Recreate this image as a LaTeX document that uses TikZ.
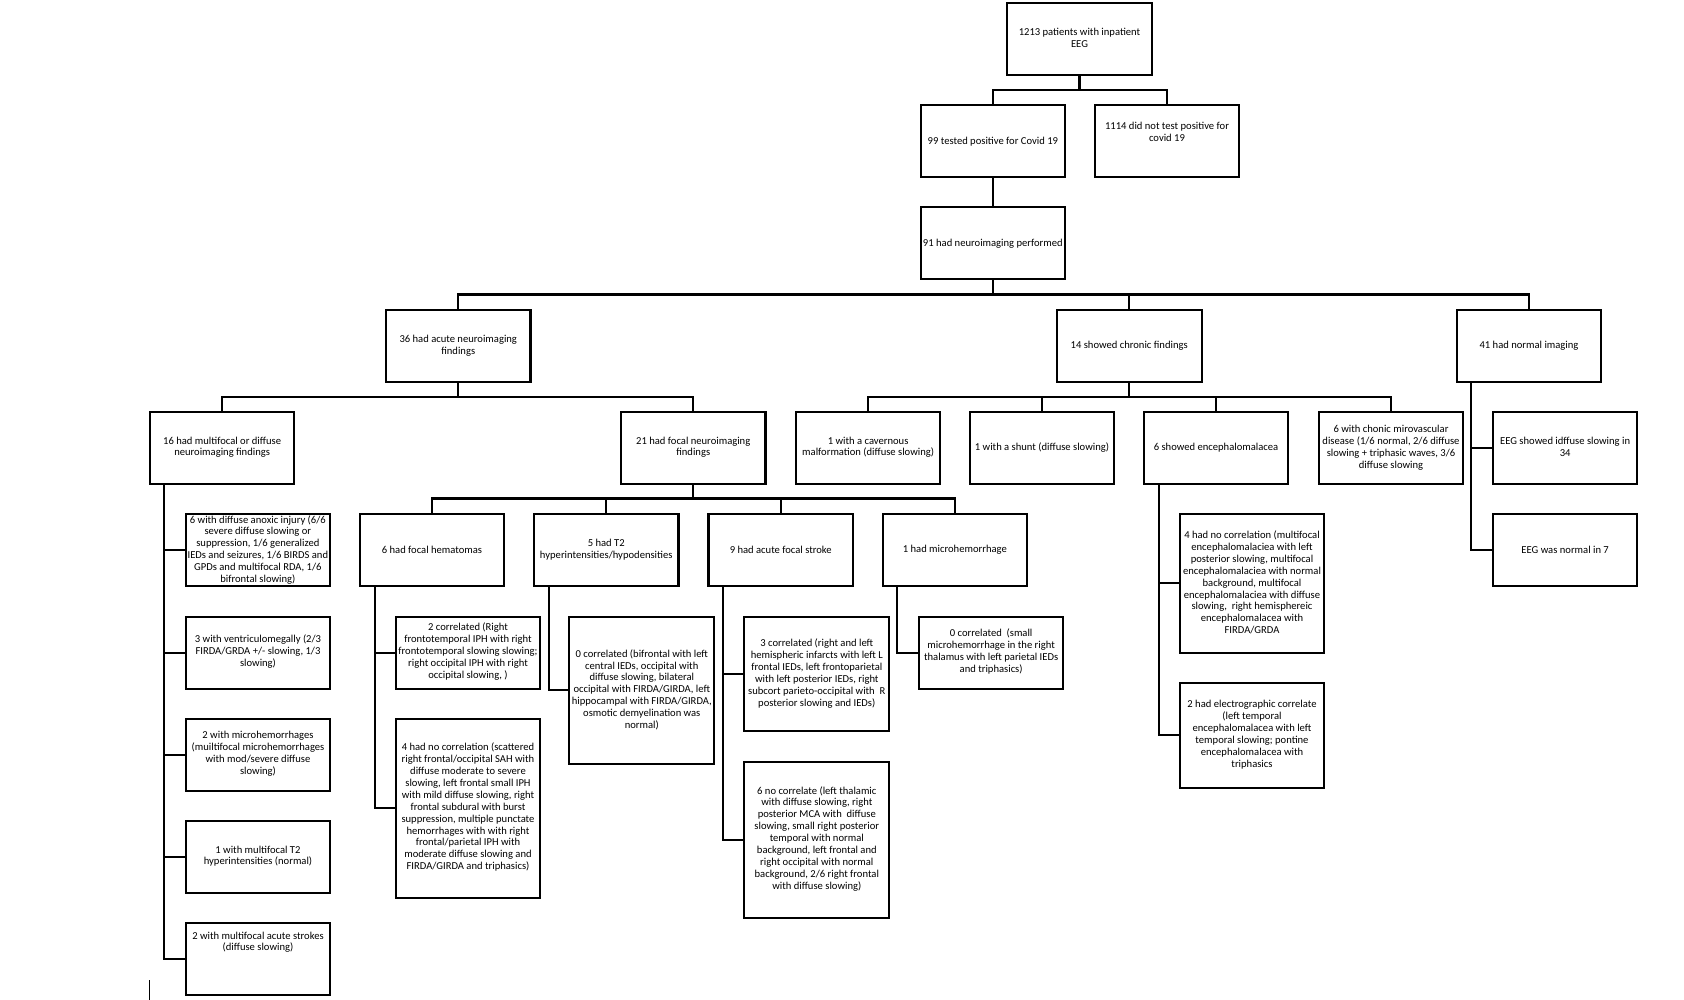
\documentclass[tikz,border=0pt]{standalone}
\usepackage{fontspec}
\setmainfont{Carlito}
\tikzset{
  boxst/.style={draw=black, line width=2.2pt, fill=white, inner sep=0pt, outer sep=0pt, rectangle},
  txtst/.style={inner sep=0pt, outer sep=0pt, align=center, font=\fontsize{10.6}{11.9}\selectfont},
  conn/.style={draw=black, line width=2.2pt},
  thinline/.style={draw=black, line width=1pt}
}
\newcommand{\bx}[7]{%
  \node[boxst, minimum width={(#4)-(#2)}, minimum height={(#5)-(#3)}] (#1) at ({((#2)+(#4))/2},{((#3)+(#5))/2}) {};
  \node[txtst] (#1t) at ({((#2)+(#4))/2},#6) {#7};}
\begin{document}
\begin{tikzpicture}[x=1pt,y=-1pt]
\useasboundingbox[fill=white] (0,0) rectangle (1684,1000);
% level 0-2
\bx{A}{1007.3}{2.7}{1151.7}{74.7}{38.2}{1213 patients with inpatient\\EEG}
\bx{B}{920.7}{104.7}{1065}{176.7}{141.2}{99 tested positive for Covid 19}
\bx{C}{1094.7}{104.7}{1239.3}{176.7}{132}{1114 did not test positive for\\covid 19}
\bx{D}{920.7}{207.3}{1065}{279.3}{243.5}{91 had neuroimaging performed}
% level 3
\bx{E}{386}{310}{530.5}{381.7}{346}{36 had acute neuroimaging\\findings}
\bx{F}{1056.7}{310}{1201.7}{381.7}{345.5}{14 showed chronic findings}
\bx{G}{1457}{310}{1601}{381.7}{345.5}{41 had normal imaging}
% level 4
\bx{H}{150}{411.7}{294.3}{484}{447.2}{16 had multifocal or diffuse\\neuroimaging findings}
\bx{I}{621}{411.7}{765.5}{484}{447.2}{21 had focal neuroimaging\\findings}
\bx{J}{796}{411.7}{940.3}{484}{447.2}{1 with a cavernous\\malformation (diffuse slowing)}
\bx{K}{969.7}{411.7}{1114.3}{484}{447.2}{1 with a shunt (diffuse slowing)}
\bx{L}{1143.7}{411.7}{1288.3}{484}{447.2}{6 showed encephalomalacea}
\bx{M}{1318.7}{411.7}{1463.3}{483.7}{447.8}{6 with chonic mirovascular\\disease (1/6 normal, 2/6 diffuse\\slowing + triphasic waves, 3/6\\diffuse slowing}
\bx{N}{1493}{411.7}{1637.3}{483.7}{447.3}{EEG showed idffuse slowing in\\34}
\bx{O}{1493}{513.7}{1637.3}{586}{549.5}{EEG was normal in 7}
% children of H
\bx{Ha}{185.7}{514}{330}{585.7}{549.8}{6 with diffuse anoxic injury (6/6\\severe diffuse slowing or\\suppression, 1/6 generalized\\IEDs and seizures, 1/6 BIRDS and\\GPDs and multifocal RDA, 1/6\\bifrontal slowing)}
\bx{Hb}{185.7}{616.7}{330.3}{689}{651.8}{3 with ventriculomegally (2/3\\FIRDA/GRDA +/- slowing, 1/3\\slowing)}
\bx{Hc}{185.7}{718.7}{330.3}{791}{753.7}{2 with microhemorrhages\\(muiltifocal microhemorrhages\\with mod/severe diffuse\\slowing)}
\bx{Hd}{185.7}{820.7}{330.3}{893}{856.2}{1 with multifocal T2\\hyperintensities (normal)}
\bx{He}{185.7}{922.7}{330.3}{995}{942.2}{2 with multifocal acute strokes\\(diffuse slowing)}
% children of I
\bx{Ia}{360}{514}{504}{586}{550}{6 had focal hematomas}
\bx{Ib}{534}{514}{678.5}{586}{549.8}{5 had T2\\hyperintensities/hypodensities}
\bx{Ic}{708.5}{514}{853}{586}{550}{9 had acute focal stroke}
\bx{Id}{882.7}{513.7}{1027}{585.7}{550.2}{1 had microhemorrhage}
% grandchildren
\bx{Iaa}{395.7}{616.7}{540.3}{689}{651.7}{2 correlated (Right\\frontotemporal IPH with right\\frontotemporal slowing slowing;\\right occipital IPH with right\\occipital slowing, )}
\bx{Iab}{395.7}{718.7}{540.3}{897.7}{807.2}{4 had no correlation (scattered\\right frontal/occipital SAH with\\diffuse moderate to severe\\slowing, left frontal small IPH\\with mild diffuse slowing, right\\frontal subdural with burst\\suppression, multiple punctate\\hemorrhages with with right\\frontal/parietal IPH with\\moderate diffuse slowing and\\FIRDA/GIRDA and triphasics)}
\bx{Iba}{569.3}{616.7}{714.3}{764}{689.7}{0 correlated (bifrontal with left\\central IEDs, occipital with\\diffuse slowing, bilateral\\occipital with FIRDA/GIRDA, left\\hippocampal with FIRDA/GIRDA,\\osmotic demyelination was\\normal)}
\bx{Ica}{744.3}{616.7}{889.3}{730.7}{673.7}{3 correlated (right and left\\hemispheric infarcts with left L\\frontal IEDs, left frontoparietal\\with left posterior IEDs, right\\subcort parieto-occipital with\ \ R\\posterior slowing and IEDs)}
\bx{Icb}{744.3}{762}{889.3}{917.7}{838.7}{6 no correlate (left thalamic\\with diffuse slowing, right\\posterior MCA with\ \ diffuse\\slowing, small right posterior\\temporal with normal\\background, left frontal and\\right occipital with normal\\background, 2/6 right frontal\\with diffuse slowing)}
\bx{Ida}{919}{616.7}{1063.3}{688.7}{651.5}{0 correlated\ \ (small\\microhemorrhage in the right\\thalamus with left parietal IEDs\\and triphasics)}
\bx{La}{1179.7}{513.7}{1324.3}{652.7}{582.5}{4 had no correlation (multifocal\\encephalomalaciea with left\\posterior slowing, multifocal\\encephalomalaciea with normal\\background, multifocal\\encephalomalaciea with diffuse\\slowing,\ \ right hemisphereic\\encephalomalacea with\\FIRDA/GRDA}
\bx{Lb}{1179.7}{683}{1324.3}{787.7}{734.7}{2 had electrographic correlate\\(left temporal\\encephalomalacea with left\\temporal slowing; pontine\\encephalomalacea with\\triphasics}
% connectors
\draw[conn] (A.south) -- ++(0,15) -| (B.north);
\draw[conn] (A.south) -- ++(0,15) -| (C.north);
\draw[conn] (B.south) -- (D.north);
\draw[conn] (D.south) -- ++(0,15.3) -| (E.north);
\draw[conn] (D.south) -- ++(0,15.3) -| (F.north);
\draw[conn] (D.south) -- ++(0,15.3) -| (G.north);
\draw[conn] (E.south) -- ++(0,15) -| (H.north);
\draw[conn] (E.south) -- ++(0,15) -| (I.north);
\foreach \c in {J,K,L,M} {\draw[conn] (F.south) -- ++(0,15) -| (\c.north);}
\foreach \c in {Ia,Ib,Ic,Id} {\draw[conn] (I.south) -- ++(0,14.5) -| (\c.north);}
\foreach \c in {Ha,Hb,Hc,Hd,He} {\draw[conn] ([xshift=14.3pt]H.south west) |- (\c.west);}
\foreach \c in {N,O} {\draw[conn] ([xshift=14.3pt]G.south west) |- (\c.west);}
\foreach \c in {Iaa,Iab} {\draw[conn] ([xshift=15pt]Ia.south west) |- (\c.west);}
\draw[conn] ([xshift=15pt]Ib.south west) |- (Iba.west);
\foreach \c in {Ica,Icb} {\draw[conn] ([xshift=14.2pt]Ic.south west) |- (\c.west);}
\draw[conn] ([xshift=14pt]Id.south west) |- (Ida.west);
\foreach \c in {La,Lb} {\draw[conn] ([xshift=15.3pt]L.south west) |- (\c.west);}
% stray mark at bottom left
\draw[thinline] (149.3,980) -- (149.3,1000);
\end{tikzpicture}
\end{document}
